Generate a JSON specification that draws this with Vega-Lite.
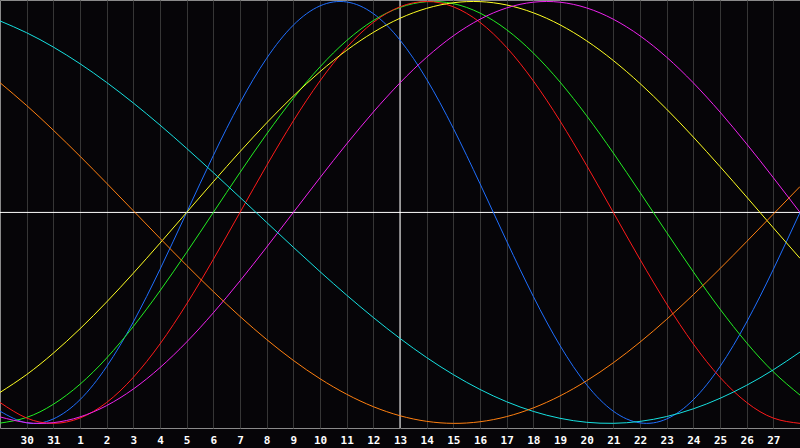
{
  "$schema": "https://vega.github.io/schema/vega-lite/v6.json",
  "width": 800,
  "height": 428,
  "autosize": {"type": "none"},
  "padding": {"left": 0, "right": 0, "top": 0, "bottom": 20},
  "background": "#060508",
  "config": {
    "view": {"stroke": "#8a8a8a", "fill": "#060508"},
    "axis": {"domain": false},
    "axisX": {"labelOverlap": false, "labelFlush": false, "labelBound": false}
  },
  "datasets": {
    "curves": [
      {"d":0,"s":"Physical","v":-0.9424},{"d":1,"s":"Physical","v":-0.9977},{"d":2,"s":"Physical","v":-0.9791},{"d":3,"s":"Physical","v":-0.8879},{"d":4,"s":"Physical","v":-0.7307},{"d":5,"s":"Physical","v":-0.5195},{"d":6,"s":"Physical","v":-0.2698},{"d":7,"s":"Physical","v":0},{"d":8,"s":"Physical","v":0.2698},{"d":9,"s":"Physical","v":0.5195},{"d":10,"s":"Physical","v":0.7307},{"d":11,"s":"Physical","v":0.8879},{"d":12,"s":"Physical","v":0.9791},{"d":13,"s":"Physical","v":0.9977},{"d":14,"s":"Physical","v":0.9424},{"d":15,"s":"Physical","v":0.817},{"d":16,"s":"Physical","v":0.6311},{"d":17,"s":"Physical","v":0.3984},{"d":18,"s":"Physical","v":0.1362},{"d":19,"s":"Physical","v":-0.1362},{"d":20,"s":"Physical","v":-0.3984},{"d":21,"s":"Physical","v":-0.6311},{"d":22,"s":"Physical","v":-0.817},{"d":23,"s":"Physical","v":-0.9424},{"d":24,"s":"Physical","v":-0.9977},{"d":25,"s":"Physical","v":-0.9791},{"d":26,"s":"Physical","v":-0.8879},{"d":27,"s":"Physical","v":-0.7307},{"d":28,"s":"Physical","v":-0.5195},{"d":29,"s":"Physical","v":-0.2698},{"d":30,"s":"Physical","v":0},
      {"d":0,"s":"Intellectual","v":-0.9989},{"d":1,"s":"Intellectual","v":-0.9718},{"d":2,"s":"Intellectual","v":-0.9096},{"d":3,"s":"Intellectual","v":-0.8146},{"d":4,"s":"Intellectual","v":-0.6901},{"d":5,"s":"Intellectual","v":-0.5406},{"d":6,"s":"Intellectual","v":-0.3717},{"d":7,"s":"Intellectual","v":-0.1893},{"d":8,"s":"Intellectual","v":0},{"d":9,"s":"Intellectual","v":0.1893},{"d":10,"s":"Intellectual","v":0.3717},{"d":11,"s":"Intellectual","v":0.5406},{"d":12,"s":"Intellectual","v":0.6901},{"d":13,"s":"Intellectual","v":0.8146},{"d":14,"s":"Intellectual","v":0.9096},{"d":15,"s":"Intellectual","v":0.9718},{"d":16,"s":"Intellectual","v":0.9989},{"d":17,"s":"Intellectual","v":0.9898},{"d":18,"s":"Intellectual","v":0.945},{"d":19,"s":"Intellectual","v":0.866},{"d":20,"s":"Intellectual","v":0.7557},{"d":21,"s":"Intellectual","v":0.6182},{"d":22,"s":"Intellectual","v":0.4582},{"d":23,"s":"Intellectual","v":0.2817},{"d":24,"s":"Intellectual","v":0.095},{"d":25,"s":"Intellectual","v":-0.095},{"d":26,"s":"Intellectual","v":-0.2817},{"d":27,"s":"Intellectual","v":-0.4582},{"d":28,"s":"Intellectual","v":-0.6182},{"d":29,"s":"Intellectual","v":-0.7557},{"d":30,"s":"Intellectual","v":-0.866},
      {"d":0,"s":"Emotional","v":-0.901},{"d":1,"s":"Emotional","v":-0.9749},{"d":2,"s":"Emotional","v":-1},{"d":3,"s":"Emotional","v":-0.9749},{"d":4,"s":"Emotional","v":-0.901},{"d":5,"s":"Emotional","v":-0.7818},{"d":6,"s":"Emotional","v":-0.6235},{"d":7,"s":"Emotional","v":-0.4339},{"d":8,"s":"Emotional","v":-0.2225},{"d":9,"s":"Emotional","v":0},{"d":10,"s":"Emotional","v":0.2225},{"d":11,"s":"Emotional","v":0.4339},{"d":12,"s":"Emotional","v":0.6235},{"d":13,"s":"Emotional","v":0.7818},{"d":14,"s":"Emotional","v":0.901},{"d":15,"s":"Emotional","v":0.9749},{"d":16,"s":"Emotional","v":1},{"d":17,"s":"Emotional","v":0.9749},{"d":18,"s":"Emotional","v":0.901},{"d":19,"s":"Emotional","v":0.7818},{"d":20,"s":"Emotional","v":0.6235},{"d":21,"s":"Emotional","v":0.4339},{"d":22,"s":"Emotional","v":0.2225},{"d":23,"s":"Emotional","v":0},{"d":24,"s":"Emotional","v":-0.2225},{"d":25,"s":"Emotional","v":-0.4339},{"d":26,"s":"Emotional","v":-0.6235},{"d":27,"s":"Emotional","v":-0.7818},{"d":28,"s":"Emotional","v":-0.901},{"d":29,"s":"Emotional","v":-0.9749},{"d":30,"s":"Emotional","v":-1},
      {"d":0,"s":"Aesthetic","v":-0.8535},{"d":1,"s":"Aesthetic","v":-0.7686},{"d":2,"s":"Aesthetic","v":-0.6672},{"d":3,"s":"Aesthetic","v":-0.5517},{"d":4,"s":"Aesthetic","v":-0.4245},{"d":5,"s":"Aesthetic","v":-0.2881},{"d":6,"s":"Aesthetic","v":-0.1456},{"d":7,"s":"Aesthetic","v":0},{"d":8,"s":"Aesthetic","v":0.1456},{"d":9,"s":"Aesthetic","v":0.2881},{"d":10,"s":"Aesthetic","v":0.4245},{"d":11,"s":"Aesthetic","v":0.5517},{"d":12,"s":"Aesthetic","v":0.6672},{"d":13,"s":"Aesthetic","v":0.7686},{"d":14,"s":"Aesthetic","v":0.8535},{"d":15,"s":"Aesthetic","v":0.9204},{"d":16,"s":"Aesthetic","v":0.9675},{"d":17,"s":"Aesthetic","v":0.994},{"d":18,"s":"Aesthetic","v":0.9993},{"d":19,"s":"Aesthetic","v":0.9834},{"d":20,"s":"Aesthetic","v":0.9464},{"d":21,"s":"Aesthetic","v":0.8893},{"d":22,"s":"Aesthetic","v":0.8133},{"d":23,"s":"Aesthetic","v":0.72},{"d":24,"s":"Aesthetic","v":0.6112},{"d":25,"s":"Aesthetic","v":0.4894},{"d":26,"s":"Aesthetic","v":0.3572},{"d":27,"s":"Aesthetic","v":0.2175},{"d":28,"s":"Aesthetic","v":0.0731},{"d":29,"s":"Aesthetic","v":-0.0731},{"d":30,"s":"Aesthetic","v":-0.2175},
      {"d":0,"s":"Intuitive","v":-0.9694},{"d":1,"s":"Intuitive","v":-0.9966},{"d":2,"s":"Intuitive","v":-0.9966},{"d":3,"s":"Intuitive","v":-0.9694},{"d":4,"s":"Intuitive","v":-0.9158},{"d":5,"s":"Intuitive","v":-0.8372},{"d":6,"s":"Intuitive","v":-0.7357},{"d":7,"s":"Intuitive","v":-0.6142},{"d":8,"s":"Intuitive","v":-0.4759},{"d":9,"s":"Intuitive","v":-0.3247},{"d":10,"s":"Intuitive","v":-0.1646},{"d":11,"s":"Intuitive","v":0},{"d":12,"s":"Intuitive","v":0.1646},{"d":13,"s":"Intuitive","v":0.3247},{"d":14,"s":"Intuitive","v":0.4759},{"d":15,"s":"Intuitive","v":0.6142},{"d":16,"s":"Intuitive","v":0.7357},{"d":17,"s":"Intuitive","v":0.8372},{"d":18,"s":"Intuitive","v":0.9158},{"d":19,"s":"Intuitive","v":0.9694},{"d":20,"s":"Intuitive","v":0.9966},{"d":21,"s":"Intuitive","v":0.9966},{"d":22,"s":"Intuitive","v":0.9694},{"d":23,"s":"Intuitive","v":0.9158},{"d":24,"s":"Intuitive","v":0.8372},{"d":25,"s":"Intuitive","v":0.7357},{"d":26,"s":"Intuitive","v":0.6142},{"d":27,"s":"Intuitive","v":0.4759},{"d":28,"s":"Intuitive","v":0.3247},{"d":29,"s":"Intuitive","v":0.1646},{"d":30,"s":"Intuitive","v":0},
      {"d":0,"s":"Spiritual","v":0.9078},{"d":1,"s":"Spiritual","v":0.8518},{"d":2,"s":"Spiritual","v":0.7839},{"d":3,"s":"Spiritual","v":0.705},{"d":4,"s":"Spiritual","v":0.6161},{"d":5,"s":"Spiritual","v":0.5187},{"d":6,"s":"Spiritual","v":0.414},{"d":7,"s":"Spiritual","v":0.3034},{"d":8,"s":"Spiritual","v":0.1886},{"d":9,"s":"Spiritual","v":0.0711},{"d":10,"s":"Spiritual","v":-0.0474},{"d":11,"s":"Spiritual","v":-0.1652},{"d":12,"s":"Spiritual","v":-0.2807},{"d":13,"s":"Spiritual","v":-0.3922},{"d":14,"s":"Spiritual","v":-0.4982},{"d":15,"s":"Spiritual","v":-0.5974},{"d":16,"s":"Spiritual","v":-0.6881},{"d":17,"s":"Spiritual","v":-0.769},{"d":18,"s":"Spiritual","v":-0.8392},{"d":19,"s":"Spiritual","v":-0.8976},{"d":20,"s":"Spiritual","v":-0.9434},{"d":21,"s":"Spiritual","v":-0.976},{"d":22,"s":"Spiritual","v":-0.9949},{"d":23,"s":"Spiritual","v":-0.9998},{"d":24,"s":"Spiritual","v":-0.9907},{"d":25,"s":"Spiritual","v":-0.9677},{"d":26,"s":"Spiritual","v":-0.9311},{"d":27,"s":"Spiritual","v":-0.8814},{"d":28,"s":"Spiritual","v":-0.8194},{"d":29,"s":"Spiritual","v":-0.7461},{"d":30,"s":"Spiritual","v":-0.6619},
      {"d":0,"s":"Awareness","v":0.615},{"d":1,"s":"Awareness","v":0.5068},{"d":2,"s":"Awareness","v":0.3899},{"d":3,"s":"Awareness","v":0.2664},{"d":4,"s":"Awareness","v":0.1383},{"d":5,"s":"Awareness","v":0.0079},{"d":6,"s":"Awareness","v":-0.1227},{"d":7,"s":"Awareness","v":-0.2512},{"d":8,"s":"Awareness","v":-0.3754},{"d":9,"s":"Awareness","v":-0.4932},{"d":10,"s":"Awareness","v":-0.6026},{"d":11,"s":"Awareness","v":-0.7015},{"d":12,"s":"Awareness","v":-0.7884},{"d":13,"s":"Awareness","v":-0.862},{"d":14,"s":"Awareness","v":-0.9209},{"d":15,"s":"Awareness","v":-0.9639},{"d":16,"s":"Awareness","v":-0.9904},{"d":17,"s":"Awareness","v":-1},{"d":18,"s":"Awareness","v":-0.9924},{"d":19,"s":"Awareness","v":-0.9679},{"d":20,"s":"Awareness","v":-0.9268},{"d":21,"s":"Awareness","v":-0.8699},{"d":22,"s":"Awareness","v":-0.798},{"d":23,"s":"Awareness","v":-0.7127},{"d":24,"s":"Awareness","v":-0.615},{"d":25,"s":"Awareness","v":-0.5068},{"d":26,"s":"Awareness","v":-0.3899},{"d":27,"s":"Awareness","v":-0.2664},{"d":28,"s":"Awareness","v":-0.1383},{"d":29,"s":"Awareness","v":-0.0079},{"d":30,"s":"Awareness","v":0.1227}
    ],
    "vrule": [{"d": 15}],
    "hrule": [{"v": 0}]
  },
  "layer": [
    {
      "data": {"name": "vrule"},
      "mark": {"type": "rule", "color": "#ffffff", "strokeWidth": 1},
      "encoding": {
        "x": {"field": "d", "type": "quantitative", "scale": {"domain": [0, 30], "nice": false, "zero": false},
          "axis": {"values": [1,2,3,4,5,6,7,8,9,10,11,12,13,14,15,16,17,18,19,20,21,22,23,24,25,26,27,28,29],
            "labelExpr": "datum.value <= 2 ? datum.value + 29 : datum.value - 2",
            "title": null, "grid": true, "gridColor": "#363636", "gridWidth": 1, "gridOpacity": 1,
            "ticks": false, "tickSize": 0, "labelPadding": 6, "labelColor": "#ffffff",
            "labelFont": "DejaVu Sans Mono", "labelFontWeight": "bold", "labelFontSize": 11,
            "labelFlush": false, "labelOverlap": false, "labelBound": false, "labelSeparation": 0}}
      }
    },
    {
      "data": {"name": "hrule"},
      "mark": {"type": "rule", "color": "#ffffff", "strokeWidth": 1},
      "encoding": {
        "y": {"field": "v", "type": "quantitative", "scale": {"domain": [-1.022, 1.007], "nice": false, "zero": false}, "axis": null}
      }
    },
    {
      "data": {"name": "curves"},
      "mark": {"type": "line", "strokeWidth": 1, "interpolate": "natural"},
      "encoding": {
        "x": {"field": "d", "type": "quantitative",
          "axis": {"values": [1,2,3,4,5,6,7,8,9,10,11,12,13,14,15,16,17,18,19,20,21,22,23,24,25,26,27,28,29],
            "labelExpr": "datum.value <= 2 ? datum.value + 29 : datum.value - 2",
            "title": null, "grid": true, "gridColor": "#363636", "gridWidth": 1, "gridOpacity": 1,
            "ticks": false, "tickSize": 0, "labelPadding": 6, "labelColor": "#ffffff",
            "labelFont": "DejaVu Sans Mono", "labelFontWeight": "bold", "labelFontSize": 11,
            "labelFlush": false, "labelOverlap": false, "labelBound": false, "labelSeparation": 0}},
        "y": {"field": "v", "type": "quantitative"},
        "color": {"field": "s", "type": "nominal", "legend": null,
          "scale": {"domain": ["Physical", "Emotional", "Intellectual", "Intuitive", "Aesthetic", "Awareness", "Spiritual"],
            "range": ["#1f6fff", "#ff1a1a", "#22ee22", "#ee22ee", "#ffff22", "#ff8010", "#16e0e0"]}},
        "detail": {"field": "s"}
      }
    }
  ]
}
